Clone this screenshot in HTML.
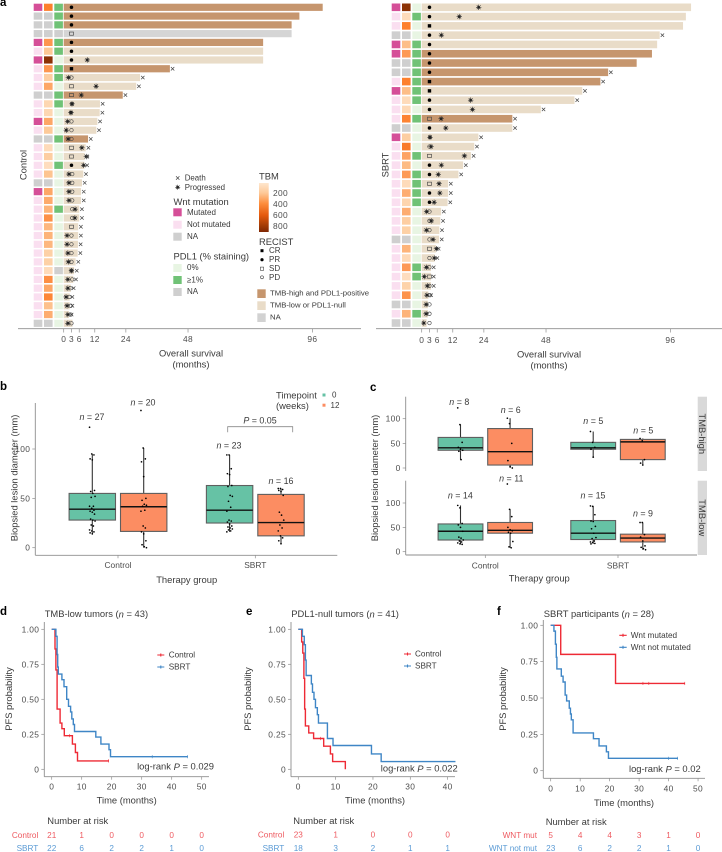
<!DOCTYPE html>
<html lang="en">
<head>
<meta charset="utf-8">
<title>Survival and response charts</title>
<style>
html,body{margin:0;padding:0;background:#fff;}
svg{display:block;position:absolute;left:0;top:0;font-family:"Liberation Sans",sans-serif;}
text{fill:#3a3a3a;dominant-baseline:central;font-size:8px;}
.t9{font-size:9.4px;}
.t8{font-size:8.2px;}
.n9{font-size:8.9px;}
.tk{font-size:8.4px;fill:#4d4d4d;}
.tn{font-size:8.4px;fill:#4d4d4d;letter-spacing:0.35px;}
.pl{font-size:11.5px;font-weight:bold;fill:#000;}
.m{text-anchor:middle;}
.e{text-anchor:end;}
</style>
</head>
<body>
<svg id="figure" xmlns="http://www.w3.org/2000/svg" width="722" height="852" viewBox="0 0 722 852">
<defs>
<linearGradient id="tbmGrad" x1="0" y1="0" x2="0" y2="1">
<stop offset="0" stop-color="#fee6ce"/><stop offset="0.2" stop-color="#fdc999"/><stop offset="0.42" stop-color="#fd8d3c"/><stop offset="0.66" stop-color="#e4590d"/><stop offset="0.88" stop-color="#a03a05"/><stop offset="1" stop-color="#7f2704"/>
</linearGradient>
</defs>

<!-- Panel labels -->
<text class="pl" x="0" y="3">a</text>
<text class="pl" x="0" y="387">b</text>
<text class="pl" x="370" y="388">c</text>
<text class="pl" x="0" y="612">d</text>
<text class="pl" x="246" y="612">e</text>
<text class="pl" x="497" y="612">f</text>

<!-- Panel a static -->
<g id="swimmerControl"></g>
<g id="swimmerSbrt"></g>
<text class="t9 m" transform="rotate(-90 23 165)" x="23" y="165">Control</text>
<text class="t9 m" transform="rotate(-90 385 165)" x="385" y="165">SBRT</text>
<text class="t9 m" x="191" y="353">Overall survival</text>
<text class="t9 m" x="191" y="364">(months)</text>
<text class="t9 m" x="549" y="354">Overall survival</text>
<text class="t9 m" x="549" y="365">(months)</text>

<!-- Legend a -->
<g>
<g stroke="#444" stroke-width="0.7"><path d="M176 176.300l3.400 3.400M179.400 176.300l-3.400 3.400"/></g>
<text x="184.700" y="178" font-size="8" style="font-size:7.900px">Death</text>
<g stroke="#333" stroke-width="0.6"><path d="M175.200 187.300h5M177.700 184.800v5M175.900 185.500l3.600 3.600M179.500 185.500l-3.600 3.600"/><circle cx="177.700" cy="187.300" r="1.100" fill="#222"/></g>
<text x="184.700" y="187.300" style="font-size:7.900px">Progressed</text>

<text class="t9" x="173.500" y="201.700">Wnt mutation</text>
<rect x="173.300" y="208.300" width="8.400" height="8" fill="#d54f98"/>
<text x="187" y="212.300">Mutated</text>
<rect x="173.300" y="220.700" width="8.400" height="8" fill="#fadff0"/>
<text x="187" y="224.500">Not mutated</text>
<rect x="173.300" y="232.700" width="8.400" height="8" fill="#cfcfcf"/>
<text x="187" y="236.300">NA</text>

<text class="t9" x="173.500" y="256">PDL1 (% staining)</text>
<rect x="173.300" y="264" width="8.400" height="8" fill="#e8f5e3"/>
<text x="187" y="267.500">0%</text>
<rect x="173.300" y="276" width="8.400" height="8" fill="#70c276"/>
<text x="187" y="280">≥1%</text>
<rect x="173.300" y="288" width="8.400" height="8" fill="#cfcfcf"/>
<text x="187" y="291.500">NA</text>

<text class="t9" x="259" y="176">TBM</text>
<rect x="259" y="183" width="9.700" height="49" fill="url(#tbmGrad)"/>
<text x="273" y="193" class="tn">200</text>
<text x="273" y="204" class="tn">400</text>
<text x="273" y="215" class="tn">600</text>
<text x="273" y="226" class="tn">800</text>

<text class="t9" x="259" y="241.700">RECIST</text>
<rect x="260.500" y="249.200" width="3" height="3" fill="#000"/>
<text x="269" y="250.700">CR</text>
<circle cx="262" cy="259.700" r="1.600" fill="#000"/>
<text x="269" y="259.700">PR</text>
<rect x="260.400" y="267.100" width="3.200" height="3.200" fill="none" stroke="#444" stroke-width="0.6"/>
<text x="269" y="268.700">SD</text>
<circle cx="262" cy="277.300" r="1.500" fill="none" stroke="#444" stroke-width="0.6"/>
<text x="269" y="277.300">PD</text>

<rect x="257.300" y="289.300" width="8.400" height="8.700" fill="#c6966e"/>
<text x="270" y="293" style="font-size:7.750px">TMB-high and PDL1-positive</text>
<rect x="257.300" y="301.300" width="8.400" height="8.700" fill="#e9dcc8"/>
<text x="270" y="305" style="font-size:7.750px">TMB-low or PDL1-null</text>
<rect x="257.300" y="313.300" width="8.400" height="8.700" fill="#d2d2d2"/>
<text x="270" y="317" style="font-size:7.750px">NA</text>
</g>

<!-- Panel b -->
<g id="boxB"></g>
<text class="t9 m" transform="rotate(-90 14 478)" x="14" y="478">Biopsied lesion diameter (mm)</text>
<text class="t9 m" x="186.700" y="579.700">Therapy group</text>
<text class="n9 m" x="92" y="417"><tspan font-style="italic">n</tspan> = 27</text>
<text class="n9 m" x="143" y="402.300"><tspan font-style="italic">n</tspan> = 20</text>
<text class="n9 m" x="229" y="445.700"><tspan font-style="italic">n</tspan> = 23</text>
<text class="n9 m" x="281" y="481"><tspan font-style="italic">n</tspan> = 16</text>
<path d="M227.700 432.300V426.700H292.700V432.300" fill="none" stroke="#888" stroke-width="0.8"/>
<text class="n9 m" x="260" y="420.700"><tspan font-style="italic">P</tspan> = 0.05</text>
<text class="t9" x="276" y="395">Timepoint</text>
<text class="t9" x="276" y="405.700">(weeks)</text>
<rect x="322.500" y="393.500" width="3" height="3" fill="#66c2a5"/>
<text x="332" y="395">0</text>
<rect x="322.500" y="403.700" width="3" height="3" fill="#fc8d62"/>
<text x="330.500" y="405.500">12</text>

<!-- Panel c -->
<rect x="697.700" y="396.700" width="9.300" height="74.300" fill="#d9d9d9"/>
<rect x="697.700" y="480.700" width="9.300" height="74.300" fill="#d9d9d9"/>
<text class="t9 m" transform="rotate(90 702.400 433.800)" x="702.400" y="433.800">TMB-high</text>
<text class="t9 m" transform="rotate(90 702.400 517.800)" x="702.400" y="517.800">TMB-low</text>
<g id="boxCTop"></g>
<g id="boxCBottom"></g>
<text class="t9 m" transform="rotate(-90 374.700 478)" x="374.700" y="478">Biopsied lesion diameter (mm)</text>
<text class="t9 m" x="539.300" y="578">Therapy group</text>
<text class="n9 m" x="459.300" y="402"><tspan font-style="italic">n</tspan> = 8</text>
<text class="n9 m" x="510.700" y="410"><tspan font-style="italic">n</tspan> = 6</text>
<text class="n9 m" x="593.300" y="421"><tspan font-style="italic">n</tspan> = 5</text>
<text class="n9 m" x="643.300" y="430.300"><tspan font-style="italic">n</tspan> = 5</text>
<text class="n9 m" x="460.300" y="495.700"><tspan font-style="italic">n</tspan> = 14</text>
<text class="n9 m" x="511.300" y="478.700"><tspan font-style="italic">n</tspan> = 11</text>
<text class="n9 m" x="593" y="495.300"><tspan font-style="italic">n</tspan> = 15</text>
<text class="n9 m" x="643" y="513.700"><tspan font-style="italic">n</tspan> = 9</text>

<!-- Panel d -->
<text class="t9" x="44.700" y="613.700">TMB-low tumors (<tspan font-style="italic">n</tspan> = 43)</text>
<g id="kmD"></g>
<text class="t9 m" transform="rotate(-90 8.700 699)" x="8.700" y="699">PFS probability</text>
<text class="t9 m" x="126.700" y="800">Time (months)</text>
<text class="t8" x="168.700" y="655">Control</text>
<text class="t8" x="168.700" y="667">SBRT</text>
<text class="t9 e" x="214" y="766">log-rank <tspan font-style="italic">P</tspan> = 0.029</text>
<text class="t9" x="47.300" y="820.700">Number at risk</text>

<!-- Panel e -->
<text class="t9" x="291.300" y="613.700">PDL1-null tumors (<tspan font-style="italic">n</tspan> = 41)</text>
<g id="kmE"></g>
<text class="t9 m" transform="rotate(-90 247.300 699)" x="247.300" y="699">PFS probability</text>
<text class="t9 m" x="375" y="800">Time (months)</text>
<text class="t8" x="415" y="654">Control</text>
<text class="t8" x="415" y="666">SBRT</text>
<text class="t9 e" x="457.700" y="768">log-rank <tspan font-style="italic">P</tspan> = 0.022</text>
<text class="t9" x="293.300" y="820.700">Number at risk</text>

<!-- Panel f -->
<text class="t9" x="543.700" y="613.700">SBRT participants (<tspan font-style="italic">n</tspan> = 28)</text>
<g id="kmF"></g>
<text class="t9 m" transform="rotate(-90 502.700 699)" x="502.700" y="699">PFS probability</text>
<text class="t9 m" x="624" y="802.300">Time (months)</text>
<text class="t8" x="630.700" y="635.300">Wnt mutated</text>
<text class="t8" x="630.700" y="647.300">Wnt not mutated</text>
<text class="t9 e" x="700.700" y="768.300">log-rank <tspan font-style="italic">P</tspan> = 0.02</text>
<text class="t9" x="545.700" y="821.700">Number at risk</text>
</svg>

<script>
/* ---------- Panel a data ---------- */
const survivalTicks = [0, 3, 6, 12, 24, 48, 96];

const controlSurvival = [100, 91, 88, 88, 77, 77, 77, 41, 29.5, 28, 22.8, 14, 13.9, 13, 12.6, 9.4, 8.5, 8.1, 8, 7.57, 7.06, 6.7, 6.7, 6, 6, 5.6, 5.6, 5.5, 5.4, 4.6, 4, 3.7, 2.8, 2.3, 2.3, 2, 3.4];
const controlDeath = [0, 0, 0, 0, 0, 0, 0, 1, 1, 1, 1, 1, 1, 1, 1, 1, 1, 1, 1, 1, 1, 1, 1, 1, 1, 1, 1, 1, 1, 1, 1, 1, 1, 1, 1, 1, 0];
const controlWnt = ["M","X","X","X","M","N","M","N","N","N","X","N","N","M","N","X","N","N","N","N","X","M","N","N","N","N","N","N","N","N","N","N","N","N","N","N","X"];
const controlTbm = [480, null, null, null, 350, 200, 850, 350, 170, 300, null, 130, 130, 300, 190, null, 110, 170, 100, 210, null, 300, 290, 260, 380, 250, 260, 250, 160, 160, 110, 390, 300, 440, 220, 280, null];
const controlPdl1 = ["P","P","P","X","P","P","Z","P","P","Z","P","P","Z","Z","Z","P","Z","Z","P","Z","Z","Z","Z","P","Z","Z","Z","Z","Z","Z","X","Z","Z","Z","Z","Z","Z"];
const controlClass = ["H","H","H","X","H","L","L","H","L","L","H","L","L","L","L","H","L","L","L","L","L","L","L","L","L","L","L","L","L","L","L","L","L","L","L","L","L"];
const controlResponse = ["PR","PR","PR","SD","PR","PR","PR","CR","PD","SD","SD","PR","PR","PD","PD","PD","SD","SD","PR","PD","PD","PD","PD","PD","PD","SD","PD","PD","PD","PD","PD","PD","PD","PD","PD","PD","PD"];
const controlResponseTime = [3, 3, 3, 3, 3, 3, 3, 3, 3, 3, 3, 3.2, 2.8, 3, 3, 3, 3, 3, 3, 3.3, 3.3, 3.3, 3.3, 3.3, 3.3, 3, 3, 3, 3, 3, 3, 3.3, 2.6, 2.2, 2.7, 2.7, 3];
const controlProgress = [null, null, null, null, null, null, 9.1, null, 1.8, 12.5, 6.8, 3.2, 2.8, 1.5, 1, 1.7, 7, 8.75, 7.7, 2, 2, 2, 2, 4.4, 4.3, null, 1.3, 1.3, 1.6, 1.8, 3, 1.6, 1.6, 0.9, 1.3, 1.6, 1.6];

const sbrtSurvival = [104, 102, 100.9, 91.9, 90.9, 88.9, 83, 72, 69, 62, 59, 46, 35, 35, 21.9, 20.3, 19, 16, 14.2, 10.2, 10.2, 10, 7.5, 7.2, 6.8, 6.7, 5.5, 5, 3.6, 3.6, 3.6, 2.6, 2.4, 2.4, 1.9];
const sbrtDeath = [0, 0, 0, 1, 0, 0, 0, 1, 1, 1, 1, 1, 1, 1, 1, 1, 1, 1, 1, 1, 1, 1, 1, 1, 1, 1, 1, 1, 1, 1, 1, 1, 0, 0, 0];
const sbrtWnt = ["M","N","N","X","M","M","X","X","N","M","N","N","N","X","M","N","N","N","N","N","N","N","N","N","N","X","N","N","N","N","N","N","X","N","X"];
const sbrtTbm = [850, 110, 480, null, 230, 340, null, null, 480, 230, 110, 120, 460, null, 170, 500, 310, 240, 340, 110, 280, 140, 280, 170, 160, null, 260, 120, 340, 100, 150, 370, null, 260, null];
const sbrtPdl1 = ["Z","P","Z","Z","P","P","P","P","P","P","P","Z","P","Z","Z","Z","P","Z","P","P","P","P","Z","Z","Z","Z","Z","Z","P","P","Z","Z","Z","P","Z"];
const sbrtClass = ["L","L","L","L","L","H","H","H","H","L","L","L","H","L","L","L","L","L","L","L","L","L","L","L","L","L","L","L","L","L","L","L","L","L","L"];
const sbrtResponse = ["PR","PR","CR","PR","PR","PR","PR","PR","CR","CR","PR","PR","SD","PR","PR","PD","SD","PR","PR","SD","PR","PR","PD","PD","PD","PD","SD","PD","PD","SD","PD","PD","PD","PD","PD"];
const sbrtResponseTime = [3, 3, 3, 3, 3, 3, 3, 3, 3, 3, 3, 3, 3, 3, 3.2, 3, 3, 3, 3, 3, 3, 3, 3, 3, 3, 3, 3, 3, 3, 3, 3, 3.2, 3, 3, 3];
const sbrtProgress = [22, 14.5, null, 7.6, null, null, null, null, null, null, 18.9, 19.6, 7.5, 9.3, 3.2, 3.6, 16.5, 7.6, 6.4, 6.7, 7, 4.8, 1.9, 3.7, 1.8, 4.4, 5.7, 4.9, 1.8, 1, 2.2, 2, 1.7, 1.7, 0.8];

/* ---------- Panel b data ---------- */
const therapyGroups = ["Control", "SBRT"];
const bTicks = [0, 50, 100];
const bQ1 = [28, 16.5, 25, 12];
const bMedian = [39, 41.5, 38, 25.5];
const bQ3 = [55, 55, 63, 54];
const bLow = [14, 0, 16, 4];
const bHigh = [95, 101, 94, 60];
const bPointsControl0 = [122, 95, 94, 90, 89, 58, 57, 55, 52, 51, 42, 42, 40, 38, 37, 36, 34, 29, 28, 27, 23, 22, 18, 17, 16, 15, 14];
const bPointsControl12 = [139, 101, 90, 87, 72, 50, 48, 44, 43, 42, 38, 37, 22, 20, 16, 14, 7, 3, 1, 0];
const bPointsSbrt0 = [94, 94, 80, 75, 74, 63, 62, 53, 52, 47, 41, 37, 28, 27, 26, 24, 22, 21, 20, 19, 18, 17, 16];
const bPointsSbrt12 = [60, 60, 59, 58, 57, 53, 36, 33, 28, 23, 20, 17, 12, 10, 7, 4];

/* ---------- Panel c data ---------- */
const cHighQ1 = [36, 6, 38, 17];
const cHighMedian = [41, 33, 41, 53];
const cHighQ3 = [62, 80, 52, 58];
const cHighLow = [17, 0, 22, 6];
const cHighHigh = [88, 101, 74, 60];
const cHighControl0 = [122, 88, 52, 42, 38, 36, 34, 17];
const cHighControl12 = [101, 90, 50, 15, 3, 0];
const cHighSbrt0 = [74, 52, 42, 38, 22];
const cHighSbrt12 = [60, 55, 17, 10, 6];

const cLowQ1 = [24, 38, 25, 20];
const cLowMedian = [42, 44, 38, 28];
const cLowQ3 = [57, 60, 64, 36];
const cLowLow = [15, 8, 16, 4];
const cLowHigh = [95, 87, 94, 60];
const cLowControl0 = [95, 90, 58, 55, 50, 42, 30, 28, 24, 22, 20, 18, 16, 15];
const cLowControl12 = [139, 87, 72, 50, 45, 43, 40, 38, 21, 10, 8];
const cLowSbrt0 = [94, 93, 76, 63, 62, 52, 47, 38, 29, 27, 22, 20, 19, 17, 16];
const cLowSbrt12 = [60, 60, 35, 30, 22, 12, 9, 6, 4];

/* ---------- Panels d, e, f data ---------- */
const kmYTicks = [0, 0.25, 0.5, 0.75, 1];
const kmYTickLabels = ["0", "0.25", "0.50", "0.75", "1.00"];

const dTicks = [0, 10, 20, 30, 40, 50];
const dControlTime = [1.1, 1.4, 1.8, 2.8, 3.4, 4.2, 6.9, 7.9, 8.6];
const dControlSurv = [0.86, 0.71, 0.43, 0.33, 0.29, 0.24, 0.18, 0.12, 0.06];
const dControlEnd = 19;
const dControlCensor = [6, 19];
const dSbrtTime = [1.4, 1.8, 2, 2.2, 3.4, 4.1, 5, 5.6, 6.3, 6.7, 7.2, 7.6, 14.7, 16.4, 19.1, 19.6];
const dSbrtSurv = [0.95, 0.82, 0.73, 0.68, 0.64, 0.59, 0.5, 0.45, 0.41, 0.36, 0.32, 0.27, 0.23, 0.18, 0.14, 0.09];
const dSbrtEnd = 45.3;
const dSbrtCensor = [33.5, 45.3];
const dRiskControl = [21, 1, 0, 0, 0, 0];
const dRiskSbrt = [22, 6, 2, 2, 1, 0];

const eTicks = [0, 10, 20, 30, 40];
const eControlTime = [0.9, 1.2, 1.5, 1.7, 1.9, 2.8, 4.1, 6.8, 8.6, 9.2, 12.6];
const eControlSurv = [0.91, 0.83, 0.65, 0.43, 0.31, 0.26, 0.22, 0.165, 0.11, 0.055, 0];
const eControlEnd = 12.6;
const eControlCensor = [6];
const eSbrtTime = [1.1, 1.6, 1.9, 2.1, 3.5, 3.8, 4.2, 4.6, 5.1, 5.4, 7.8, 9.3, 19.6, 22.2];
const eSbrtSurv = [0.95, 0.89, 0.78, 0.67, 0.61, 0.55, 0.5, 0.44, 0.39, 0.33, 0.22, 0.17, 0.11, 0.055];
const eSbrtEnd = 42.1;
const eSbrtCensor = [];
const eRiskControl = [23, 1, 0, 0, 0];
const eRiskSbrt = [18, 3, 2, 1, 1];

const fTicks = [0, 10, 20, 30, 40, 50];
const fMutTime = [3.4, 22];
const fMutSurv = [0.8, 0.6];
const fMutEnd = 45.5;
const fMutCensor = [31.3, 33.3, 45.5];
const fNotTime = [1.1, 1.6, 1.9, 2.1, 3.6, 4.2, 4.9, 5.4, 6.3, 6.7, 7, 7.6, 14.5, 16.4, 18.9, 19.6];
const fNotSurv = [0.96, 0.87, 0.78, 0.7, 0.65, 0.61, 0.52, 0.48, 0.43, 0.39, 0.35, 0.26, 0.22, 0.17, 0.13, 0.085];
const fNotEnd = 43.1;
const fNotCensor = [40, 43.1];
const fRiskMut = [5, 4, 4, 3, 1, 0];
const fRiskNot = [23, 6, 2, 2, 1, 0];

/* ---------- Helpers ---------- */
const NS = "http://www.w3.org/2000/svg";
function make(tag, parent, props) {
  const e = document.createElementNS(NS, tag);
  for (const k in props) e.setAttribute(k, props[k]);
  parent.appendChild(e);
  return e;
}
const axisColor = "#8e8e8e";
const wntColors = { M: "#d54f98", N: "#fadff0", X: "#cfcfcf" };
const pdl1Colors = { P: "#70c276", Z: "#e8f5e3", X: "#cfcfcf" };
const classColors = { H: "#c6966e", L: "#e9dcc8", X: "#d5d5d5" };
const tbmStops = [[50, 254, 232, 210], [200, 253, 200, 150], [350, 253, 150, 80], [480, 253, 128, 45], [650, 215, 80, 10], [850, 140, 50, 5]];
function tbmColor(v) {
  if (v === null) return "#cfcfcf";
  for (let i = 1; i < tbmStops.length; i++) {
    if (v <= tbmStops[i][0]) {
      const a = tbmStops[i - 1], b = tbmStops[i], f = Math.max(0, (v - a[0]) / (b[0] - a[0]));
      return "rgb(" + [1, 2, 3].map(j => Math.round(a[j] + (b[j] - a[j]) * f)).join(",") + ")";
    }
  }
  return "#8c3205";
}

/* ---------- Panel a drawing ---------- */
function drawSwimmer(g, cfg) {
  const xScale = m => cfg.x0 + 2.59 * m;
  const rowY = i => 7.3 + i * cfg.step;
  const h = cfg.step * 0.82;
  cfg.survival.forEach((s, i) => {
    const y = rowY(i);
    const wnt = make("rect", g, { x: cfg.wntX, y: y - h / 2, width: 8.6, height: h, fill: wntColors[cfg.wnt[i]] });
    
    
    const tbm = make("rect", g, { x: cfg.wntX + 10.3, y: y - h / 2, width: 8.6, height: h, fill: tbmColor(cfg.tbm[i]) });
    
    
    const pd = make("rect", g, { x: cfg.wntX + 20.6, y: y - h / 2, width: 8.6, height: h, fill: pdl1Colors[cfg.pdl1[i]] });
    
    
    const bar = make("rect", g, { x: xScale(0), y: y - h / 2, width: xScale(s) - xScale(0), height: h, fill: classColors[cfg.cls[i]] });
    
    

    const rx = xScale(cfg.responseTime[i]);
    let mark;
    if (cfg.response[i] === "CR") mark = make("rect", g, { x: rx - 1.7, y: y - 1.7, width: 3.4, height: 3.4, fill: "#000" });
    if (cfg.response[i] === "PR") mark = make("circle", g, { cx: rx, cy: y, r: 1.75, fill: "#000" });
    if (cfg.response[i] === "SD") mark = make("rect", g, { x: rx - 2, y: y - 1.6, width: 4, height: 3.2, fill: "none", stroke: "#444", "stroke-width": 0.65 });
    if (cfg.response[i] === "PD") mark = make("circle", g, { cx: rx, cy: y, r: 1.75, fill: "none", stroke: "#444", "stroke-width": 0.65 });
    
    

    if (cfg.progress[i] !== null) {
      const px = xScale(cfg.progress[i]);
      const star = make("path", g, { d: `M${px - 2.7} ${y}h5.4M${px} ${y - 2.7}v5.4M${px - 1.9} ${y - 1.9}l3.8 3.8M${px + 1.9} ${y - 1.9}l-3.8 3.8`, stroke: "#333", "stroke-width": 0.65, fill: "none" });
      
      
      const core = make("circle", g, { cx: px, cy: y, r: 1.3, fill: "#222" });
      
      
    }
    if (cfg.death[i]) {
      const dx = xScale(s) + 2.7;
      const death = make("path", g, { d: `M${dx - 1.7} ${y - 1.7}l3.4 3.4M${dx + 1.7} ${y - 1.7}l-3.4 3.4`, stroke: "#444", "stroke-width": 0.7, fill: "none" });
      
      
    }
  });
  const axis = make("line", g, { x1: cfg.axisStart, x2: cfg.axisEnd, y1: 328.7, y2: 328.7, stroke: axisColor, "stroke-width": 0.9 });
  
  
  survivalTicks.forEach(t => {
    const tick = make("line", g, { x1: xScale(t), x2: xScale(t), y1: 328.7, y2: 332.5, stroke: axisColor, "stroke-width": 0.7 });
    
    
    const label = make("text", g, { x: xScale(t), y: cfg.labelY, class: "tn m" });
    label.textContent = t;
    
    
  });
}
drawSwimmer(document.getElementById("swimmerControl"), {
  x0: 63.7, step: 8.778, wntX: 33.7, axisStart: 18, axisEnd: 361, labelY: 339,
  survival: controlSurvival, death: controlDeath, wnt: controlWnt, tbm: controlTbm, pdl1: controlPdl1,
  cls: controlClass, response: controlResponse, responseTime: controlResponseTime, progress: controlProgress
});
drawSwimmer(document.getElementById("swimmerSbrt"), {
  x0: 421.7, step: 9.286, wntX: 391.7, axisStart: 376, axisEnd: 722, labelY: 340,
  survival: sbrtSurvival, death: sbrtDeath, wnt: sbrtWnt, tbm: sbrtTbm, pdl1: sbrtPdl1,
  cls: sbrtClass, response: sbrtResponse, responseTime: sbrtResponseTime, progress: sbrtProgress
});

/* ---------- Panels b, c drawing ---------- */
const boxFills = ["#66c2a5", "#fc8d62", "#66c2a5", "#fc8d62"];
function drawBoxes(g, cfg) {
  const y = v => cfg.y0 - v * cfg.scale;
  cfg.ticks.forEach(t => {
    const tick = make("line", g, { x1: cfg.axisX - 3, x2: cfg.axisX, y1: y(t), y2: y(t), stroke: axisColor, "stroke-width": 0.7 });
    
    
    const label = make("text", g, { x: cfg.axisX - 5, y: y(t), class: "tn e" });
    label.textContent = t;
    
    
  });
  const yAxis = make("line", g, { x1: cfg.axisX, x2: cfg.axisX, y1: cfg.top, y2: cfg.bottom, stroke: axisColor, "stroke-width": 0.9 });
  
  
  if (cfg.showX) {
    const xAxis = make("line", g, { x1: cfg.axisX, x2: cfg.xEnd, y1: cfg.bottom, y2: cfg.bottom, stroke: axisColor, "stroke-width": 0.9 });
    
    
    therapyGroups.forEach((name, c) => {
      const cx = cfg.cat0 + c * cfg.catStep;
      const tick = make("line", g, { x1: cx, x2: cx, y1: cfg.bottom, y2: cfg.bottom + 3, stroke: axisColor, "stroke-width": 0.7 });
      
      
      const label = make("text", g, { x: cx, y: cfg.labelY, class: "tk m" });
      label.textContent = name;
      
      
    });
  }
  cfg.q1.forEach((_, i) => {
    const c = Math.floor(i / 2), side = i % 2 === 0 ? -1 : 1;
    const cx = cfg.cat0 + c * cfg.catStep + side * cfg.offset;
    const whisker = make("line", g, { x1: cx, x2: cx, y1: y(cfg.low[i]), y2: y(cfg.high[i]), stroke: "#333", "stroke-width": 1.1 });
    
    
    const box = make("rect", g, { x: cx - cfg.half, y: y(cfg.q3[i]), width: cfg.half * 2, height: y(cfg.q1[i]) - y(cfg.q3[i]), fill: boxFills[i], stroke: "#5f5f5f", "stroke-width": 1.1 });
    
    
    const median = make("line", g, { x1: cx - cfg.half, x2: cx + cfg.half, y1: y(cfg.median[i]), y2: y(cfg.median[i]), stroke: "#111", "stroke-width": 1.4 });
    
    
    cfg.points[i].forEach((v, k) => {
      const jitter = ((k * 37) % 11 - 5) * 0.55;
      const dot = make("circle", g, { cx: cx + jitter, cy: y(v), r: 0.85, fill: "#000" });
      
      
    });
  });
}
drawBoxes(document.getElementById("boxB"), {
  y0: 547.7, scale: 0.987, axisX: 35.3, top: 403, bottom: 555.3, xEnd: 337.3, showX: true, labelY: 565,
  cat0: 118, catStep: 137.3, offset: 25.7, half: 23.2, ticks: bTicks,
  q1: bQ1, median: bMedian, q3: bQ3, low: bLow, high: bHigh,
  points: [bPointsControl0, bPointsControl12, bPointsSbrt0, bPointsSbrt12]
});
drawBoxes(document.getElementById("boxCTop"), {
  y0: 468, scale: 0.493, axisX: 405.7, top: 396.7, bottom: 471, xEnd: 697, showX: false,
  cat0: 485.3, catStep: 132.7, offset: 24.8, half: 22.4, ticks: bTicks,
  q1: cHighQ1, median: cHighMedian, q3: cHighQ3, low: cHighLow, high: cHighHigh,
  points: [cHighControl0, cHighControl12, cHighSbrt0, cHighSbrt12]
});
drawBoxes(document.getElementById("boxCBottom"), {
  y0: 551.7, scale: 0.487, axisX: 405.7, top: 480.7, bottom: 555, xEnd: 697, showX: true, labelY: 565.7,
  cat0: 485.3, catStep: 132.7, offset: 24.8, half: 22.4, ticks: bTicks,
  q1: cLowQ1, median: cLowMedian, q3: cLowQ3, low: cLowLow, high: cLowHigh,
  points: [cLowControl0, cLowControl12, cLowSbrt0, cLowSbrt12]
});

/* ---------- Panels d, e, f drawing ---------- */
const kmRed = "#ee2a35";
const kmBlue = "#3f86c6";
function survivalAt(times, surv, t) {
  let s = 1;
  times.forEach((tt, i) => { if (tt <= t) s = surv[i]; });
  return s;
}
function drawCurve(g, cfg, times, surv, end, censors, color, name) {
  let d = `M${cfg.xs(0)} ${cfg.ys(1)}`;
  times.forEach((t, i) => { d += `H${cfg.xs(t)}V${cfg.ys(surv[i])}`; });
  d += `H${cfg.xs(end)}`;
  const line = make("path", g, { d: d, fill: "none", stroke: color, "stroke-width": 1.4 });
  
  
  censors.forEach(t => {
    const yy = cfg.ys(survivalAt(times, surv, t));
    const mark = make("line", g, { x1: cfg.xs(t), x2: cfg.xs(t), y1: yy - 1.6, y2: yy + 1.6, stroke: color, "stroke-width": 0.6 });
    
    
  });
}
function drawKM(g, cfg) {
  const xs = t => cfg.x0 + cfg.xPer * t;
  const ys = s => cfg.yZero - (cfg.yZero - cfg.yOne) * s;
  cfg.xs = xs;
  cfg.ys = ys;
  const yAxis = make("line", g, { x1: cfg.axisX, x2: cfg.axisX, y1: cfg.top, y2: cfg.bottom, stroke: axisColor, "stroke-width": 0.9 });
  
  
  const xAxis = make("line", g, { x1: cfg.axisX, x2: cfg.xEnd, y1: cfg.bottom, y2: cfg.bottom, stroke: axisColor, "stroke-width": 0.9 });
  
  
  kmYTicks.forEach((s, i) => {
    const tick = make("line", g, { x1: cfg.axisX - 3, x2: cfg.axisX, y1: ys(s), y2: ys(s), stroke: axisColor, "stroke-width": 0.7 });
    
    
    const label = make("text", g, { x: cfg.axisX - 5, y: ys(s), class: "tn e" });
    label.textContent = kmYTickLabels[i];
    
    
  });
  cfg.ticks.forEach(t => {
    const tick = make("line", g, { x1: xs(t), x2: xs(t), y1: cfg.bottom, y2: cfg.bottom + 3, stroke: axisColor, "stroke-width": 0.7 });
    
    
    const label = make("text", g, { x: xs(t), y: cfg.tickLabelY, class: "tn m" });
    label.textContent = t;
    
    
  });
  drawCurve(g, cfg, cfg.redTime, cfg.redSurv, cfg.redEnd, cfg.redCensor, kmRed, "km-curve-red");
  drawCurve(g, cfg, cfg.blueTime, cfg.blueSurv, cfg.blueEnd, cfg.blueCensor, kmBlue, "km-curve-blue");
  [[cfg.legendY1, kmRed], [cfg.legendY2, kmBlue]].forEach(item => {
    const key = make("path", g, { d: `M${cfg.legendX} ${item[0]}h${cfg.legendW}M${cfg.legendX + cfg.legendW / 2} ${item[0] - 1.5}v3`, stroke: item[1], "stroke-width": 1.1, fill: "none" });
    
    
  });
  [[cfg.riskName1, cfg.risk1, cfg.riskY1, "#ee5a60"], [cfg.riskName2, cfg.risk2, cfg.riskY2, "#5b9bd5"]].forEach(row => {
    const head = make("text", g, { x: cfg.riskLabelX, y: row[2], class: "t8 e", style: "fill:" + row[3] });
    head.textContent = row[0];
    
    
    row[1].forEach((v, i) => {
      const cell = make("text", g, { x: xs(cfg.ticks[i]), y: row[2], class: "t8 m", style: "fill:" + row[3] });
      cell.textContent = v;
      
      
    });
  });
}
drawKM(document.getElementById("kmD"), {
  x0: 51.7, xPer: 3, yZero: 769.3, yOne: 629.3, axisX: 44.3, top: 622, bottom: 776.7, xEnd: 209, tickLabelY: 786.7, ticks: dTicks,
  redTime: dControlTime, redSurv: dControlSurv, redEnd: dControlEnd, redCensor: dControlCensor,
  blueTime: dSbrtTime, blueSurv: dSbrtSurv, blueEnd: dSbrtEnd, blueCensor: dSbrtCensor,
  legendX: 157.3, legendW: 7, legendY1: 655, legendY2: 667,
  riskName1: "Control", riskName2: "SBRT", risk1: dRiskControl, risk2: dRiskSbrt, riskY1: 835.7, riskY2: 848.3, riskLabelX: 38.3
});
drawKM(document.getElementById("kmE"), {
  x0: 298.3, xPer: 3.733, yZero: 769.3, yOne: 629.3, axisX: 291, top: 622, bottom: 776.7, xEnd: 455, tickLabelY: 786.7, ticks: eTicks,
  redTime: eControlTime, redSurv: eControlSurv, redEnd: eControlEnd, redCensor: eControlCensor,
  blueTime: eSbrtTime, blueSurv: eSbrtSurv, blueEnd: eSbrtEnd, blueCensor: eSbrtCensor,
  legendX: 404, legendW: 7, legendY1: 654, legendY2: 666,
  riskName1: "Control", riskName2: "SBRT", risk1: eRiskControl, risk2: eRiskSbrt, riskY1: 835, riskY2: 848.3, riskLabelX: 284.3
});
drawKM(document.getElementById("kmF"), {
  x0: 550.7, xPer: 2.947, yZero: 770.7, yOne: 625.3, axisX: 543.3, top: 620, bottom: 778.3, xEnd: 705, tickLabelY: 788.7, ticks: fTicks,
  redTime: fMutTime, redSurv: fMutSurv, redEnd: fMutEnd, redCensor: fMutCensor,
  blueTime: fNotTime, blueSurv: fNotSurv, blueEnd: fNotEnd, blueCensor: fNotCensor,
  legendX: 619.3, legendW: 7.4, legendY1: 635.3, legendY2: 647.3,
  riskName1: "WNT mut", riskName2: "WNT not mut", risk1: fRiskMut, risk2: fRiskNot, riskY1: 835.7, riskY2: 848.3, riskLabelX: 537
});
</script>
</body>
</html>
